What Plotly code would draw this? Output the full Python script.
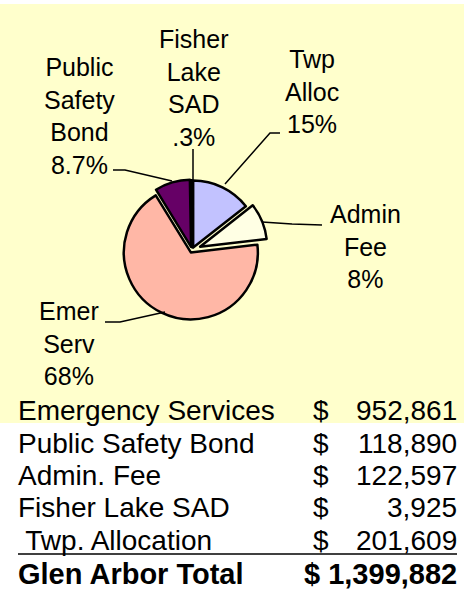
import plotly.graph_objects as go

W, H = 464, 590

# ---- data ----
slice_names = ["Twp Alloc", "Admin Fee", "Emer Serv", "Public Safety Bond", "Fisher Lake SAD"]
slice_values = [201609, 122597, 952861, 118890, 3925]
slice_labels = ["Twp<br>Alloc<br>15%", "Admin<br>Fee<br>8%", "Emer<br>Serv<br>68%",
                "Public<br>Safety<br>Bond<br>8.7%", "Fisher<br>Lake<br>SAD<br>.3%"]
slice_colors = ["#C2C2FF", "#FFFFE4", "#FFB7A6", "#660066", "#000000"]
slice_pull = [0.04, 0.13, 0.04, 0.05, 0.04]

table_names = ["Emergency Services", "Public Safety Bond", "Admin. Fee", "Fisher Lake SAD", " Twp. Allocation"]
table_values = ["952,861", "118,890", "122,597", "3,925", "201,609"]
total_name = "Glen Arbor Total"
total_value = "$ 1,399,882"


def px(x):
    return x / W


def py(y):
    return 1 - y / H


FONT = "Liberation Sans, Arial, sans-serif"

fig = go.Figure()

# pie centre ~ (192, 250), radius ~ 67 px
R = 67
maxpull = max(slice_pull)
half = R * (1 + maxpull)
cx, cy = 192, 250
fig.add_trace(go.Pie(
    labels=slice_names,
    values=slice_values,
    sort=False,
    direction="clockwise",
    rotation=0,
    pull=slice_pull,
    textinfo="none",
    hoverinfo="label+value+percent",
    marker=dict(colors=slice_colors, line=dict(color="black", width=2.5)),
    domain=dict(x=[px(cx - half), px(cx + half)], y=[py(cy + half), py(cy - half)]),
    showlegend=False,
))

shapes = []
# yellow background panel
shapes.append(dict(type="rect", xref="paper", yref="paper", x0=0, x1=1, y0=py(423), y1=py(4),
                   fillcolor="#FFFFCC", line=dict(width=0), layer="below"))

# leader lines
leaders = [
    [(280, 133), (270, 133), (225, 184)],      # Twp
    [(322, 225), (292, 224), (262, 222)],      # Admin
    [(105, 322), (120, 322), (165, 312)],      # Emer
    [(113, 170), (125, 170), (172, 181)],      # Public
    [(193, 149), (193, 182)],                  # Fisher
]
for pts in leaders:
    path = "M " + " L ".join(f"{px(x)},{py(y)}" for x, y in pts)
    shapes.append(dict(type="path", xref="paper", yref="paper", path=path,
                       line=dict(color="black", width=1.5)))

# underline under Twp. Allocation row
shapes.append(dict(type="line", xref="paper", yref="paper", x0=px(18), x1=px(457),
                   y0=py(554), y1=py(554), line=dict(color="black", width=1.5)))

annotations = []
label_pos = [(312, 92), (365, 247), (69, 343), (79, 116), (193, 88)]
for txt, (x, y) in zip(slice_labels, label_pos):
    annotations.append(dict(text=txt, x=px(x), y=py(y), xref="paper", yref="paper",
                            xanchor="center", yanchor="middle", showarrow=False, align="center",
                            font=dict(family=FONT, size=25, color="black")))

TS = 28
row_y = [410, 443, 475.5, 507.5, 540]
for name, val, y in zip(table_names, table_values, row_y):
    annotations.append(dict(text=name, x=px(16), y=py(y), xref="paper", yref="paper",
                            xanchor="left", yanchor="middle", showarrow=False,
                            font=dict(family=FONT, size=TS, color="black")))
    annotations.append(dict(text="$", x=px(321), y=py(y), xref="paper", yref="paper",
                            xanchor="center", yanchor="middle", showarrow=False,
                            font=dict(family=FONT, size=TS, color="black")))
    annotations.append(dict(text=val, x=px(459), y=py(y), xref="paper", yref="paper",
                            xanchor="right", yanchor="middle", showarrow=False,
                            font=dict(family=FONT, size=TS, color="black")))
annotations.append(dict(text=f"<b>{total_name}</b>", x=px(16), y=py(574), xref="paper", yref="paper",
                        xanchor="left", yanchor="middle", showarrow=False,
                        font=dict(family=FONT, size=29, color="black")))
annotations.append(dict(text=f"<b>{total_value}</b>", x=px(459), y=py(574), xref="paper", yref="paper",
                        xanchor="right", yanchor="middle", showarrow=False,
                        font=dict(family=FONT, size=29, color="black")))

fig.update_layout(
    width=W, height=H,
    margin=dict(l=0, r=0, t=0, b=0),
    paper_bgcolor="white",
    plot_bgcolor="white",
    shapes=shapes,
    annotations=annotations,
)

fig.write_html("out.html", config={"displayModeBar": False},
               post_script="document.body.style.margin='0';document.body.style.overflow='hidden';")
